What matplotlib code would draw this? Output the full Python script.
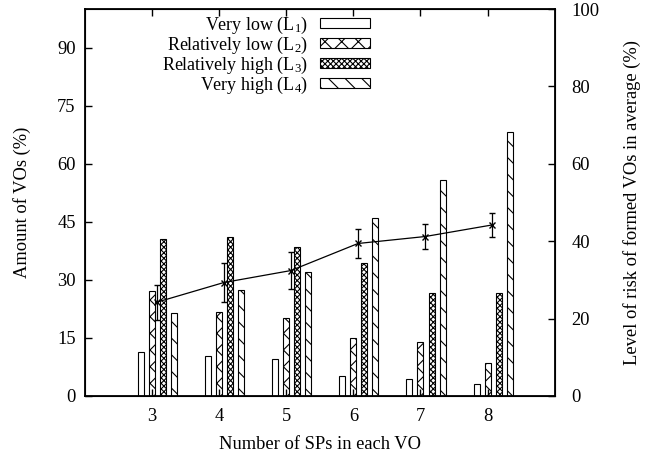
import matplotlib
matplotlib.use("Agg")
import matplotlib.pyplot as plt
import numpy as np

plt.rcParams['font.family'] = ['Liberation Serif', 'DejaVu Serif']
plt.rcParams['mathtext.fontset'] = 'custom'
plt.rcParams['mathtext.rm'] = 'Liberation Serif'
plt.rcParams['mathtext.it'] = 'Liberation Serif'
plt.rcParams['font.size'] = 13.3
plt.rcParams['hatch.linewidth'] = 0.8

# numero de SPs em cada VO
sps = [3, 4, 5, 6, 7, 8]

# porcentagem de VOs por nivel de risco
very_low = [11.3, 10.3, 9.6, 5.2, 4.3, 3.1]
rel_low = [27.1, 21.7, 20.2, 15.0, 13.9, 8.4]
rel_high = [40.5, 41.1, 38.4, 34.3, 26.5, 26.5]
very_high = [21.5, 27.3, 32.0, 45.9, 55.7, 68.3]

# risco medio (eixo direito) e barras de erro
risk_avg = [24.2, 29.3, 32.4, 39.4, 41.2, 44.2]
risk_err = [4.5, 5.0, 4.8, 3.8, 3.2, 3.0]

labels = [r'Very low (L$_{1}$)', r'Relatively low (L$_{2}$)',
          r'Relatively high (L$_{3}$)', r'Very high (L$_{4}$)']
hatches = ['', 'xx', 'xxxxxx', '\\\\']

fig = plt.figure(figsize=(6.62, 4.54), dpi=100)
ax = fig.add_axes([0.128, 0.128, 0.71, 0.852])

x = np.array(sps)
w = 0.09
step = 0.165
series = [very_low, rel_low, rel_high, very_high]
for i, vals in enumerate(series):
    ax.bar(x + (i - 1) * step, vals, width=w, color='white', edgecolor='black',
           hatch=hatches[i], linewidth=0.8, label=labels[i])

ax.set_xlim(2, 9)
ax.set_ylim(0, 100)
ax.set_xticks(sps)
ax.set_yticks(range(0, 91, 15))
ax.tick_params(direction='in', length=5, width=1, top=True, right=True)
ax.tick_params(axis='y', pad=6.5)
ax.tick_params(axis='x', pad=9)
ax.set_xlabel('Number of SPs in each VO', labelpad=8)
ax.set_ylabel('Amount of VOs (%)', labelpad=19)
for s in ax.spines.values():
    s.set_linewidth(1.3)

ax2 = ax.twinx()
ax2.set_ylim(0, 100)
ax2.set_yticks(range(0, 101, 20))
ax2.tick_params(direction='in', length=5, width=1, pad=12)
ax2.errorbar(x + 0.07, risk_avg, yerr=risk_err, color='black', linewidth=0.9,
             marker='x', markersize=5, capsize=2.5, elinewidth=0.9)
ax2.set_ylabel('Level of risk of formed VOs in average (%)', labelpad=17)

leg = ax.legend(loc='upper right', bbox_to_anchor=(0.576, 0.992),
                bbox_transform=fig.transFigure, frameon=False, markerfirst=False,
                handlelength=2.8, handleheight=0.45, labelspacing=-0.06,
                handletextpad=0.65, borderpad=0.1, fontsize=13)
for t in leg.get_texts():
    t.set_ha('right')

fig.savefig('out.png', dpi=100)
